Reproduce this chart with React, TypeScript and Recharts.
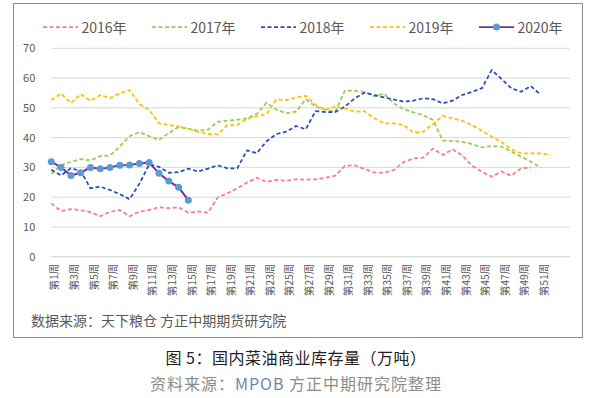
import { CartesianGrid, Line, LineChart, XAxis, YAxis } from "recharts";

const FONT = '"Noto Sans CJK SC", "Noto Sans", sans-serif';

const weeks = Array.from({ length: 54 }, (_, i) => `第${i + 1}周`);

const y2016 = [
  17.9, 15.3, 16.0, 15.6, 15.0, 13.6, 15.1, 15.7, 13.6, 15.1, 15.7, 16.6, 16.3,
  16.6, 14.8, 15.2, 14.8, 19.9, 21.3, 23.0, 24.9, 26.5, 25.1, 25.8, 25.5, 26.0,
  25.9, 26.0, 26.5, 27.2, 30.5, 30.7, 29.5, 28.3, 28.2, 29.1, 31.8, 33.0, 33.3,
  36.3, 34.2, 36.1, 34.0, 30.5, 28.5, 26.9, 28.6, 27.2, 29.7, 29.9,
];

const y2017 = [
  27.8, 30.8, 31.9, 32.8, 32.3, 33.8, 34.0, 37.0, 40.5, 41.8, 40.5, 39.2, 41.5,
  43.6, 43.0, 42.3, 42.7, 45.3, 45.7, 46.0, 46.5, 48.0, 51.7, 49.4, 48.2, 48.7,
  52.9, 50.4, 49.3, 48.7, 55.8, 55.7, 55.4, 53.8, 54.8, 51.5, 49.6, 48.5, 47.6,
  45.9, 39.0, 38.9, 38.6, 37.8, 36.7, 37.2, 37.0, 35.3, 33.6, 31.9, 30.0,
];

const y2018 = [
  29.2, 27.3, 29.7, 28.8, 23.0, 23.5, 22.4, 21.0, 19.3, 24.5, 31.0, 30.2, 28.2,
  28.4, 29.6, 28.6, 29.6, 30.7, 29.7, 29.7, 35.7, 34.8, 38.8, 41.2, 42.0, 43.9,
  42.8, 48.9, 48.6, 48.6, 50.4, 53.2, 55.1, 54.3, 53.5, 52.8, 52.1, 52.4, 53.2,
  52.9, 51.5, 52.4, 54.3, 55.4, 56.6, 62.7, 59.7, 56.6, 55.4, 57.3, 54.4,
];

const y2019 = [
  52.6, 54.8, 51.6, 54.6, 52.4, 54.3, 53.3, 54.9, 56.0, 51.3, 49.3, 44.8, 44.3,
  43.7, 43.0, 42.0, 41.2, 41.1, 44.2, 44.3, 46.3, 47.2, 47.9, 52.9, 52.6, 53.5,
  54.0, 51.0, 49.3, 50.4, 49.8, 48.7, 48.9, 46.5, 44.8, 44.8, 44.2, 41.7, 42.0,
  44.6, 47.3, 46.5, 45.6, 44.2, 42.3, 40.3, 38.5, 36.1, 34.7, 34.7, 34.7, 34.2,
];

const y2020 = [
  31.9, 30.0, 27.3, 28.2, 30.0, 29.5, 30.0, 30.7, 30.8, 31.3, 31.6, 28.0, 25.4,
  23.3, 19.0,
];

const yTicks = [0, 10, 20, 30, 40, 50, 60, 70];

const SERIES = [
  { key: "y2016", name: "2016年", values: y2016, color: "#FF7C80", dashed: true },
  { key: "y2017", name: "2017年", values: y2017, color: "#92D050", dashed: true },
  { key: "y2018", name: "2018年", values: y2018, color: "#2A4DBE", dashed: true },
  { key: "y2019", name: "2019年", values: y2019, color: "#FFC000", dashed: true },
  { key: "y2020", name: "2020年", values: y2020, color: "#7030A0", dashed: false },
];

const MARKER = "#5B9BD5";
const DASH = "4 2.5";

const data = weeks.map((week, i) => {
  const row: Record<string, string | number | null> = { week };
  SERIES.forEach((s) => {
    row[s.key] = s.values[i] ?? null;
  });
  return row;
});

const WeekTick = ({ x, y, payload, index }: any) => {
  const n = index + 1;
  if (n % 2 === 0 || n > 51) return <g />;
  return (
    <text
      transform={`translate(${x + 3.5},${y - 1}) rotate(-90)`}
      textAnchor="end"
      dy="0.35em"
      fontSize={10.5}
      fontFamily={FONT}
      fill="#595959"
    >
      {payload.value}
    </text>
  );
};

const ChartLegend = () => (
  <div
    style={{
      position: "absolute",
      left: 43,
      top: 17,
      height: 20,
      display: "flex",
      fontFamily: FONT,
      fontSize: 14,
      color: "#595959",
    }}
  >
    {SERIES.map((s) => (
      <div
        key={s.key}
        style={{ width: 109, display: "flex", alignItems: "center" }}
      >
        <svg width={35} height={12}>
          <line
            x1={0}
            x2={35}
            y1={6}
            y2={6}
            stroke={s.color}
            strokeWidth={1.75}
            strokeDasharray={s.dashed ? DASH : undefined}
          />
          {!s.dashed && <circle cx={17.5} cy={6} r={3.5} fill={MARKER} />}
        </svg>
        <span style={{ marginLeft: 3.5, lineHeight: "20px" }}>{s.name}</span>
      </div>
    ))}
  </div>
);

export default function App() {
  return (
    <div
      style={{
        position: "absolute",
        left: 0,
        top: 0,
        width: 592,
        height: 398,
        background: "#fff",
        fontFamily: FONT,
      }}
    >
      <div
        style={{
          position: "absolute",
          left: 13,
          top: 3,
          width: 570,
          height: 335,
          border: "1px solid #8a8a8a",
          boxSizing: "border-box",
        }}
      />
      <div style={{ position: "absolute", left: 0, top: 0 }}>
        <LineChart
          width={592}
          height={310}
          data={data}
          margin={{ top: 48.3, right: 22, bottom: 0, left: 11.3 }}
        >
          <CartesianGrid vertical={false} stroke="#D9D9D9" strokeWidth={1} />
          <XAxis
            dataKey="week"
            interval={0}
            height={53.3}
            tick={<WeekTick />}
            tickLine={false}
            axisLine={{ stroke: "#D9D9D9" }}
          />
          <YAxis
            domain={[0, 70]}
            ticks={yTicks}
            width={40}
            axisLine={false}
            tickLine={false}
            tickSize={6}
            tickMargin={10}
            tick={{ fontSize: 11, fill: "#595959", fontFamily: FONT }}
          />
          {SERIES.map((s) => (
            <Line
              key={s.key}
              dataKey={s.key}
              name={s.name}
              type="linear"
              stroke={s.color}
              strokeWidth={s.dashed ? 1.75 : 2}
              strokeDasharray={s.dashed ? DASH : undefined}
              dot={
                s.dashed
                  ? false
                  : { r: 3.5, fill: MARKER, stroke: MARKER, strokeWidth: 0 }
              }
              activeDot={false}
              isAnimationActive={false}
            />
          ))}
        </LineChart>
      </div>
      <ChartLegend />
      <div
        style={{
          position: "absolute",
          left: 31,
          top: 310,
          fontSize: 14,
          lineHeight: "20px",
          color: "#595959",
        }}
      >
        数据来源：天下粮仓 方正中期期货研究院
      </div>
      <div
        style={{
          position: "absolute",
          left: 0,
          width: 592,
          top: 346,
          textAlign: "center",
          fontSize: 16,
          lineHeight: "22px",
          color: "#222",
          letterSpacing: 0.5,
        }}
      >
        图 5：国内菜油商业库存量（万吨）
      </div>
      <div
        style={{
          position: "absolute",
          left: 0,
          width: 592,
          top: 372,
          textAlign: "center",
          fontSize: 16,
          lineHeight: "22px",
          color: "#8c8c8c",
          letterSpacing: 1,
        }}
      >
        资料来源：<span style={{ color: "#6F86A8" }}>MPOB</span> 方正中期研究院整理
      </div>
    </div>
  );
}
